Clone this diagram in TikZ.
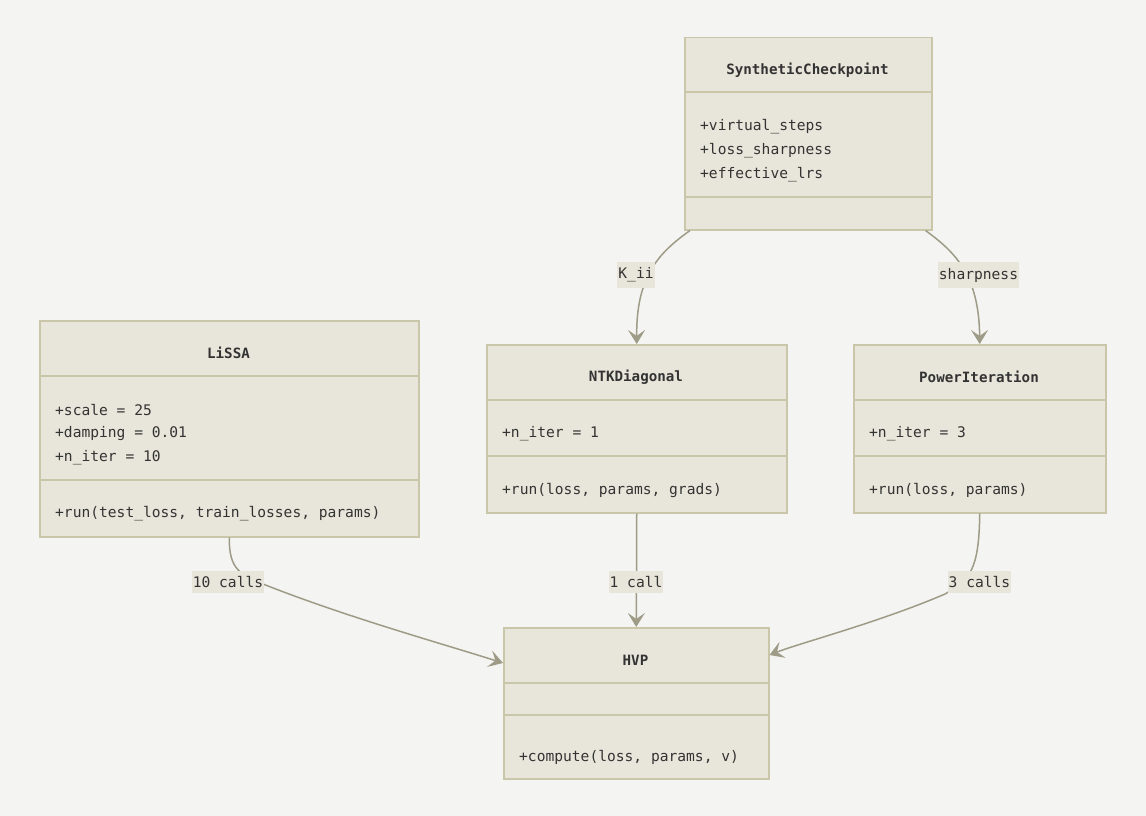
\documentclass[tikz,border=0pt]{standalone}
\usepackage{fontspec}
\setmonofont{DejaVu Sans Mono}
\usetikzlibrary{arrows.meta}
\definecolor{bg}{HTML}{F4F4F2}
\definecolor{boxfill}{HTML}{E8E6DA}
\definecolor{boxline}{HTML}{C9C6AA}
\definecolor{txt}{HTML}{333333}
\definecolor{edge}{HTML}{9E9B86}
\tikzset{
  umlbox/.style={draw=boxline, line width=1.5pt, fill=boxfill, anchor=north west, inner sep=0pt},
  divider/.style={draw=boxline, line width=1.5pt},
  title/.style={font=\ttfamily\bfseries\fontsize{14.2}{16}\selectfont, text=txt, inner sep=0pt},
  member/.style={font=\ttfamily\fontsize{14.6}{16}\selectfont, text=txt, inner sep=0pt, anchor=west},
  conn/.style={draw=edge, line width=1.5pt, -{Stealth[length=14pt,width=17pt,inset=6pt]}},
  elabel/.style={font=\ttfamily\fontsize{14.6}{16}\selectfont, text=txt, fill=boxfill, inner xsep=1pt, inner ysep=5.5pt}
}
\begin{document}
\begin{tikzpicture}[x=1pt,y=-1pt]
\fill[bg] (0,0) rectangle (1146,816);
\useasboundingbox (0,0) rectangle (1146,816);

% SyntheticCheckpoint
\node[umlbox, minimum width=247pt, minimum height=192pt] (sc) at (684,37) {};
\draw[divider] (684,92) -- (931,92);
\draw[divider] (684,197) -- (931,197);
\node[title] (sct) at (807.5,70) {SyntheticCheckpoint};
\node[member] (sca1) at (700,127) {+virtual\_steps};
\node[member] (sca2) at (700,151) {+loss\_sharpness};
\node[member] (sca3) at (700,175) {+effective\_lrs};

% LiSSA
\node[umlbox, minimum width=379pt, minimum height=216pt] (lissa) at (39,320) {};
\draw[divider] (39,376) -- (418,376);
\draw[divider] (39,480) -- (418,480);
\node[title] (lt) at (228.5,353) {LiSSA};
\node[member] (la1) at (55,410) {+scale = 25};
\node[member] (la2) at (55,434) {+damping = 0.01};
\node[member] (la3) at (55,458) {+n\_iter = 10};
\node[member] (lm1) at (55,514) {+run(test\_loss, train\_losses, params)};

% NTKDiagonal
\node[umlbox, minimum width=300pt, minimum height=168pt] (ntk) at (486,344) {};
\draw[divider] (486,400) -- (786,400);
\draw[divider] (486,456) -- (786,456);
\node[title] (nt) at (636,377) {NTKDiagonal};
\node[member] (na1) at (502,434) {+n\_iter = 1};
\node[member] (nm1) at (502,490) {+run(loss, params, grads)};

% PowerIteration
\node[umlbox, minimum width=252pt, minimum height=168pt] (pi) at (853,344) {};
\draw[divider] (853,400) -- (1105,400);
\draw[divider] (853,456) -- (1105,456);
\node[title] (pt) at (979,377) {PowerIteration};
\node[member] (pa1) at (869,434) {+n\_iter = 3};
\node[member] (pm1) at (869,490) {+run(loss, params)};

% HVP
\node[umlbox, minimum width=265pt, minimum height=151pt] (hvp) at (503,627) {};
\draw[divider] (503,683) -- (768,683);
\draw[divider] (503,715) -- (768,715);
\node[title] (ht) at (635.5,660) {HVP};
\node[member] (hm1) at (519,757) {+compute(loss, params, v)};

% connectors
\draw[conn] ([xshift=6pt]sc.south west) .. controls (660,252) and (636,275) .. (ntk.north);
\draw[conn] ([xshift=-7pt]sc.south east) .. controls (955,252) and (979,275) .. (pi.north);
\draw[conn] (lissa.south) .. controls (229,570) and (240,575) .. (268,586) .. controls (350,618) and (440,643) .. ([yshift=-36pt]hvp.north west);
\draw[conn] (ntk.south) -- (hvp.north);
\draw[conn] (pi.south) .. controls (979,570) and (970,580) .. (945,594) .. controls (880,622) and (800,643) .. ([yshift=-28pt]hvp.north east);

% edge labels
\node[elabel] (l1) at (636,275) {K\_ii};
\node[elabel] (l2) at (978.5,275) {sharpness};
\node[elabel] (l3) at (228,582) {10 calls};
\node[elabel] (l4) at (636,582) {1 call};
\node[elabel] (l5) at (979.5,582) {3 calls};
\end{tikzpicture}
\end{document}
